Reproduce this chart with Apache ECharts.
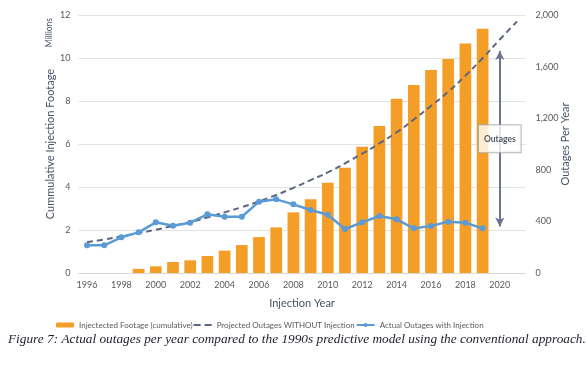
<!DOCTYPE html>
<html>
<head>
<meta charset="utf-8">
<script src="https://cdn.jsdelivr.net/npm/echarts@6/dist/echarts.min.js"></script>
<style>
html,body{margin:0;padding:0;background:#fff;}
#chart{width:588px;height:367px;}
</style>
</head>
<body>
<div id="chart"></div>
<script>
// ---- data ----
const years = ['1996','1997','1998','1999','2000','2001','2002','2003','2004','2005','2006','2007','2008','2009','2010','2011','2012','2013','2014','2015','2016','2017','2018','2019','2020','2021'];
// cumulative injected footage (millions), left axis
const footage = [null,null,null,0.19,0.31,0.51,0.59,0.79,1.04,1.30,1.67,2.12,2.82,3.43,4.20,4.90,5.87,6.84,8.10,8.74,9.44,9.95,10.68,11.36,null,null];
// projected outages without injection, right axis
const projected = [240,260,285,310,335,365,395,430,470,510,555,605,660,720,780,850,925,1005,1090,1190,1295,1405,1530,1665,1810,1950];
// actual outages with injection, right axis
const actual = [215,215,277,315,393,367,390,455,436,436,553,571,532,488,452,341,393,442,416,346,364,398,390,346];
// annotation
const arrowYear = '2020';
const arrowRange = [360, 1720];
const arrowLabel = 'Outages';
const leftTicks = {min:0, max:12, interval:2};
const rightTicks = {min:0, max:2000, interval:400};

const FONT = 'Lato, "Open Sans", sans-serif';
const chart = echarts.init(document.getElementById('chart'), null, {renderer:'canvas'});
chart.setOption({
  backgroundColor:'#fff',
  animation:false,
  grid:{left:78.4, right:62.4, top:15, bottom:94},
  legend:{
    data:[
      {name:'Injectected Footage (cumulative)'},
      {name:'Projected Outages WITHOUT Injection', icon:'path://M0,0h7v2h-7zM11,0h7v2h-7z'},
      {name:'Actual Outages with Injection'}
    ],
    left:51, top:316, itemWidth:18, itemHeight:5, itemGap:1,
    textStyle:{color:'#595959', fontSize:8, fontFamily:FONT}
  },
  xAxis:{
    type:'category', data:years, boundaryGap:true,
    name:'Injection Year', nameLocation:'middle', nameGap:25, nameMoveOverlap:false,
    nameTextStyle:{color:'#44546a', fontSize:11, fontFamily:FONT},
    axisLine:{show:true, lineStyle:{color:'#d9d9d9'}},
    axisTick:{show:false},
    axisLabel:{interval:1, color:'#595959', fontSize:9, fontFamily:FONT, margin:8}
  },
  yAxis:[{
    type:'value', min:leftTicks.min, max:leftTicks.max, interval:leftTicks.interval,
    name:'Cummulative Injection Footage', nameLocation:'middle', nameGap:22, nameMoveOverlap:false,
    nameTextStyle:{color:'#44546a', fontSize:11, fontFamily:FONT},
    axisLine:{show:false}, axisTick:{show:false},
    axisLabel:{color:'#595959', fontSize:9, fontFamily:FONT, margin:8},
    splitLine:{lineStyle:{color:'#e3e3e3'}}
  },{
    type:'value', min:rightTicks.min, max:rightTicks.max, interval:rightTicks.interval,
    name:'Outages Per Year', nameLocation:'middle', nameGap:34, nameRotate:90, nameMoveOverlap:false,
    nameTextStyle:{color:'#44546a', fontSize:11, fontFamily:FONT},
    axisLine:{show:false}, axisTick:{show:false},
    axisLabel:{color:'#595959', fontSize:9, fontFamily:FONT, margin:10,
      formatter:v=>v.toLocaleString('en-US')},
    splitLine:{show:false}
  }],
  series:[{
    name:'Injectected Footage (cumulative)', type:'bar', yAxisIndex:0,
    data:footage, barCategoryGap:'32%',
    itemStyle:{color:'#f49d27'}, z:1
  },{
    name:'Projected Outages WITHOUT Injection', type:'line', yAxisIndex:1,
    data:projected, showSymbol:false, symbol:'none', smooth:true,
    lineStyle:{color:'#5b6781', width:2, type:[6,4]},
    itemStyle:{color:'#5b6781'}, z:3
  },{
    name:'Actual Outages with Injection', type:'line', yAxisIndex:1,
    data:actual, symbol:'circle', symbolSize:6,
    lineStyle:{color:'#5b9bd5', width:2.5}, itemStyle:{color:'#5b9bd5'}, z:4,
    markLine:{
      silent:true, symbol:['arrow','arrow'], symbolSize:[7,9],
      lineStyle:{color:'#6b7590', width:2, type:'solid'},
      label:{show:false},
      data:[[{coord:[arrowYear, arrowRange[0]]},{coord:[arrowYear, arrowRange[1]]}]]
    }
  },{
    name:'annot', type:'scatter', yAxisIndex:1, symbolSize:0, z:6,
    data:[[arrowYear, (arrowRange[0]+arrowRange[1])/2]],
    label:{show:true, position:'inside', formatter:arrowLabel,
      color:'#1f2a3c', fontSize:8.5, fontWeight:'bold', fontFamily:FONT,
      backgroundColor:'#fff', borderColor:'#a6a6a6', borderWidth:1,
      padding:[9,5,9,5]}
  }],
  graphic:[{
    type:'text', left:45, top:18, rotation:Math.PI/2,
    style:{text:'Millions', fill:'#44546a', font:'8.5px '+FONT}
  },{
    type:'text', left:8, top:333,
    style:{text:'Figure 7: Actual outages per year compared to the 1990s predictive model using the conventional approach.',
      fill:'#1c1c30', font:'italic 13.3px "Liberation Serif", serif'}
  }]
});
</script>
</body>
</html>
